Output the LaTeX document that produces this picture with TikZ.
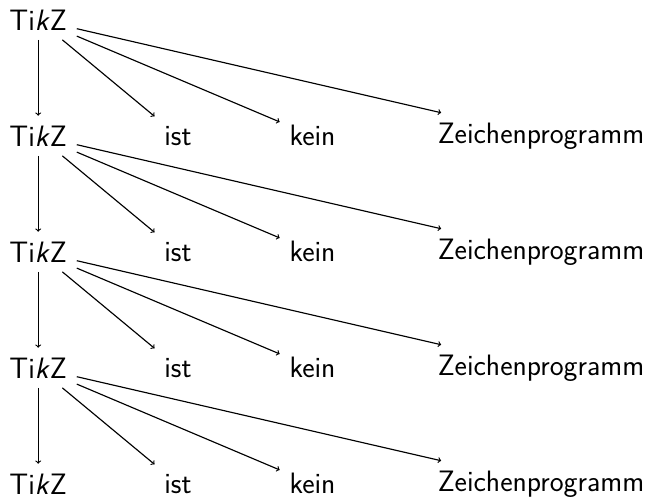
\documentclass[tikz,border=0pt]{standalone}
\usepackage{fontspec}
\begin{document}
\begin{tikzpicture}[x=1bp,y=1bp,
  word/.style={font=\sffamily\fontsize{29.5bp}{35bp}\selectfont,anchor=center,inner sep=9.83bp,outer sep=0pt},
  link/.style={->,line width=1.15bp}]
\useasboundingbox (0,0) rectangle (653,-497);
\node[word] (t1) at (38.2,-19.8) {Ti\emph{k}Z};
\foreach \r/\y in {2/-135.8,3/-251.8,4/-367.8,5/-483.8}{
  \node[word] (t\r) at (38.2,\y) {Ti\emph{k}Z};
  \node[word] (i\r) at (178,\y) {ist};
  \node[word] (k\r) at (312.5,\y) {kein};
  \node[word] (z\r) at (541,\y) {Zeichenprogramm};
}
\foreach \r/\n in {1/2,2/3,3/4,4/5}{
  \draw[link] (t\r) -- (t\n);
  \draw[link] (t\r) -- (i\n);
  \draw[link] (t\r) -- (k\n);
  \draw[link] (t\r) -- (z\n);
}
\end{tikzpicture}
\end{document}
